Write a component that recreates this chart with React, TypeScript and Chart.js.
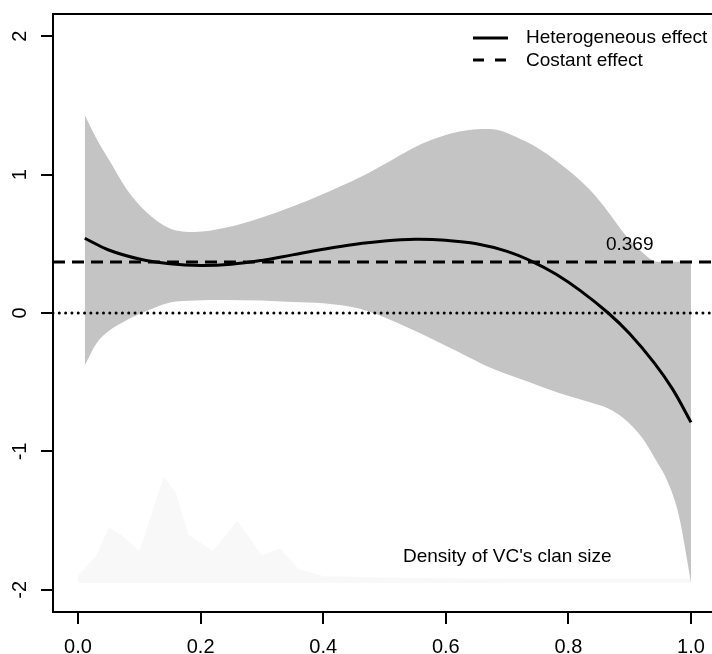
import React, { useEffect, useRef } from "react";
import { Chart, registerables } from "chart.js";

Chart.register(...registerables);

// ---- data ----
const xTicks = [0, 0.2, 0.4, 0.6, 0.8, 1.0];
const xTickLabels = ["0.0", "0.2", "0.4", "0.6", "0.8", "1.0"];
const yTicks = [-2, -1, 0, 1, 2];
const yTickLabels = ["-2", "-1", "0", "1", "2"];

const bandX = [0.011, 0.03, 0.05, 0.08, 0.11, 0.15, 0.19, 0.24, 0.3, 0.35, 0.4, 0.46, 0.51, 0.56, 0.62, 0.67, 0.73, 0.78, 0.835, 0.865, 0.89, 0.92, 0.945, 0.96, 0.98, 1.0];
const bandUpper = [1.43, 1.26, 1.11, 0.89, 0.735, 0.61, 0.585, 0.615, 0.69, 0.77, 0.86, 0.98, 1.1, 1.22, 1.31, 1.33, 1.24, 1.1, 0.89, 0.73, 0.58, 0.44, 0.37, 0.37, 0.37, 0.37];
const bandLower = [-0.38, -0.22, -0.13, -0.05, 0.01, 0.075, 0.09, 0.094, 0.09, 0.08, 0.07, 0.03, -0.05, -0.15, -0.28, -0.39, -0.49, -0.57, -0.645, -0.69, -0.76, -0.9, -1.08, -1.2, -1.46, -1.95];

const curveX = [0.011, 0.05, 0.1, 0.15, 0.2, 0.25, 0.3, 0.35, 0.4, 0.45, 0.5, 0.55, 0.6, 0.65, 0.7, 0.742, 0.78, 0.82, 0.865, 0.9, 0.94, 0.97, 1.0];
const curveY = [0.54, 0.455, 0.39, 0.355, 0.343, 0.352, 0.38, 0.42, 0.46, 0.495, 0.52, 0.532, 0.525, 0.5, 0.445, 0.37, 0.28, 0.16, 0.0, -0.15, -0.36, -0.55, -0.79];

const densityX = [0.0, 0.03, 0.05, 0.07, 0.1, 0.12, 0.14, 0.16, 0.18, 0.22, 0.26, 0.3, 0.33, 0.36, 0.4, 0.5, 0.7, 0.9, 1.0];
const densityY = [-1.9, -1.75, -1.55, -1.6, -1.72, -1.45, -1.18, -1.3, -1.6, -1.72, -1.5, -1.75, -1.7, -1.85, -1.9, -1.91, -1.92, -1.92, -1.92];
const densityBase = -1.95;

const constantEffect = 0.369;
const zeroLevel = 0;
const xRange = [-0.0408, 1.0408];
const yRange = [-2.16, 2.16];

const legendLabels = ["Heterogeneous effect", "Costant effect"];
const constantLabel = "0.369";
const constantLabelX = 0.9;
const densityLabel = "Density of VC's clan size";

const FONT = '"Liberation Sans", Arial, Helvetica, sans-serif';

const zip = (xs: number[], ys: number[]) => xs.map((x, i) => ({ x, y: ys[i] }));

const textPlugin = {
  id: "rtext",
  afterDraw(chart: any) {
    const { ctx, chartArea, scales } = chart;
    const xs = scales.x;
    const ys = scales.y;
    ctx.save();
    // box
    ctx.strokeStyle = "#000";
    ctx.lineWidth = 2;
    ctx.strokeRect(chartArea.left, chartArea.top, chartArea.right - chartArea.left, chartArea.bottom - chartArea.top);

    ctx.fillStyle = "#000";
    // x tick labels
    ctx.font = `20px ${FONT}`;
    ctx.textAlign = "center";
    ctx.textBaseline = "alphabetic";
    xTicks.forEach((v, i) => {
      ctx.fillText(xTickLabels[i], xs.getPixelForValue(v), chartArea.bottom + 41);
    });
    // y tick labels (rotated)
    yTicks.forEach((v, i) => {
      ctx.save();
      ctx.translate(chartArea.left - 27, ys.getPixelForValue(v));
      ctx.rotate(-Math.PI / 2);
      ctx.fillText(yTickLabels[i], 0, 0);
      ctx.restore();
    });

    // 0.369 label
    ctx.font = `19px ${FONT}`;
    ctx.textAlign = "center";
    ctx.fillText(constantLabel, xs.getPixelForValue(constantLabelX), ys.getPixelForValue(constantEffect) - 12);

    // density label
    ctx.textAlign = "left";
    ctx.fillText(densityLabel, 403, 562);

    // legend
    ctx.lineWidth = 3;
    ctx.lineCap = "butt";
    ctx.beginPath();
    ctx.moveTo(473, 38);
    ctx.lineTo(508, 38);
    ctx.stroke();
    ctx.setLineDash([11, 11]);
    ctx.beginPath();
    ctx.moveTo(473, 60);
    ctx.lineTo(508, 60);
    ctx.stroke();
    ctx.setLineDash([]);
    ctx.textAlign = "left";
    ctx.fillText(legendLabels[0], 526, 43);
    ctx.fillText(legendLabels[1], 526, 66);
    ctx.restore();
  },
};

export default function App() {
  const ref = useRef<HTMLCanvasElement | null>(null);
  useEffect(() => {
    document.body.style.margin = "0";
    if (!ref.current) return;
    const tickGrid = {
      display: true,
      drawOnChartArea: false,
      drawTicks: true,
      tickLength: 12,
      lineWidth: 2,
      color: "#000",
    };
    const chart = new Chart(ref.current, {
      type: "line",
      data: {
        datasets: [
          {
            label: "density",
            data: zip(densityX, densityY),
            borderWidth: 0,
            pointRadius: 0,
            backgroundColor: "rgba(0,0,0,0.028)",
            fill: { value: densityBase },
            tension: 0,
            order: 3,
          },
          {
            label: "upper",
            data: zip(bandX, bandUpper),
            borderWidth: 0,
            pointRadius: 0,
            backgroundColor: "#c4c4c4",
            fill: "+1",
            cubicInterpolationMode: "monotone",
            order: 2,
          },
          {
            label: "lower",
            data: zip(bandX, bandLower),
            borderWidth: 0,
            pointRadius: 0,
            fill: false,
            cubicInterpolationMode: "monotone",
            order: 2,
          },
          {
            label: "Heterogeneous effect",
            data: zip(curveX, curveY),
            borderColor: "#000",
            borderWidth: 3,
            pointRadius: 0,
            fill: false,
            tension: 0.4,
            order: 0,
          },
          {
            label: "Costant effect",
            data: [
              { x: xRange[0], y: constantEffect },
              { x: xRange[1], y: constantEffect },
            ],
            borderColor: "#000",
            borderWidth: 3,
            borderDash: [12, 7],
            pointRadius: 0,
            fill: false,
            order: 1,
          },
          {
            label: "zero",
            data: [
              { x: xRange[0], y: zeroLevel },
              { x: xRange[1], y: zeroLevel },
            ],
            borderColor: "#000",
            borderWidth: 3,
            borderDash: [0.01, 6.3],
            borderCapStyle: "round",
            pointRadius: 0,
            fill: false,
            order: 1,
          },
        ],
      },
      options: {
        animation: false,
        responsive: false,
        devicePixelRatio: 1,
        layout: { padding: { left: 41, top: 14, right: 14, bottom: 30 } },
        plugins: { legend: { display: false }, tooltip: { enabled: false } },
        scales: {
          x: {
            type: "linear",
            min: xRange[0],
            max: xRange[1],
            grid: tickGrid,
            border: { display: false },
            ticks: { display: false },
            afterBuildTicks: (s: any) => {
              s.ticks = xTicks.map((v) => ({ value: v }));
            },
          },
          y: {
            type: "linear",
            min: yRange[0],
            max: yRange[1],
            grid: tickGrid,
            border: { display: false },
            ticks: { display: false },
            afterBuildTicks: (s: any) => {
              s.ticks = yTicks.map((v) => ({ value: v }));
            },
          },
        },
      } as any,
      plugins: [textPlugin],
    });
    return () => chart.destroy();
  }, []);
  return (
    <div style={{ width: 712, height: 654, overflow: "hidden", position: "relative", background: "#fff" }}>
      <canvas ref={ref} width={730} height={654} style={{ display: "block" }} />
    </div>
  );
}
